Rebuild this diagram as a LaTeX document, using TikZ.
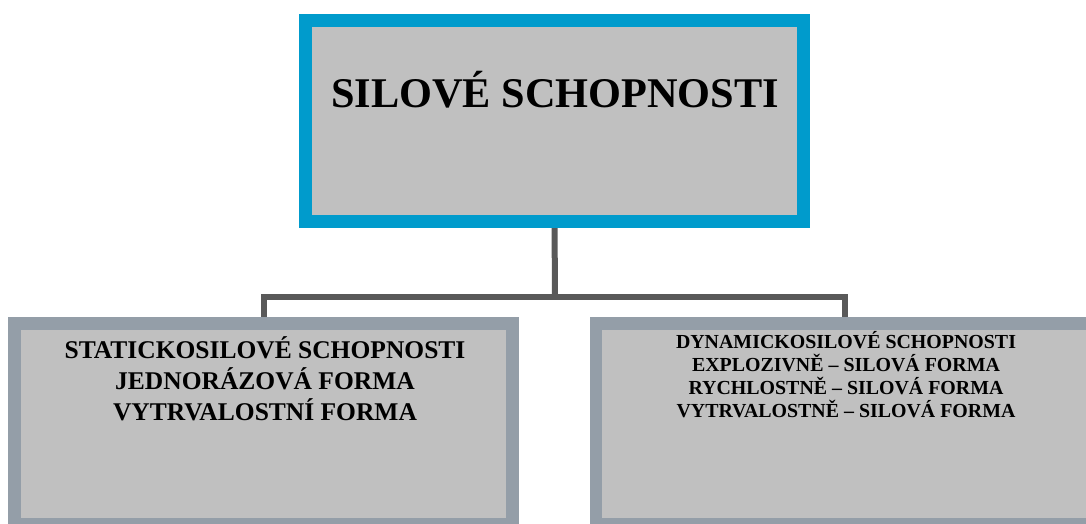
\documentclass[tikz,border=0pt]{standalone}
\usepackage{fontspec}
\setmainfont{Liberation Serif}
\usetikzlibrary{backgrounds}
\definecolor{topblue}{RGB}{0,155,204}
\definecolor{boxfill}{RGB}{192,192,192}
\definecolor{subborder}{RGB}{148,158,168}
\definecolor{linkgray}{RGB}{89,89,89}
\tikzset{
  box/.style={rectangle, inner sep=0pt, outer sep=0pt, minimum width=498pt, minimum height=201pt, fill=boxfill, line width=12.5pt},
  topbox/.style={box, draw=topblue},
  subbox/.style={box, draw=subborder},
  link/.style={draw=linkgray, line width=6pt, line join=miter},
  lbl/.style={inner sep=0pt, outer sep=0pt, align=center, anchor=base, font=\bfseries}
}
\begin{document}
\begin{tikzpicture}[x=1pt,y=-1pt]
\useasboundingbox (0,0) rectangle (1086,524);
\node[topbox] (top) at (554.5,121) {};
\node[subbox] (left) at (263.5,424) {};
\node[subbox] (right) at (845,424) {};
\coordinate (j) at (555,297);
\begin{scope}[on background layer]
\draw[link] (top.south) -- (j);
\draw[link] (left.north) |- (j) -| (right.north);
\end{scope}
\node[lbl, font=\bfseries\fontsize{42.3}{50}\selectfont] (ttl) at (555,107) {SILOVÉ SCHOPNOSTI};
\node[lbl, font=\bfseries\fontsize{25.5}{30.7}\selectfont] (ltxt) at (265,420) {STATICKOSILOVÉ SCHOPNOSTI\\JEDNORÁZOVÁ FORMA\\VYTRVALOSTNÍ FORMA};
\node[lbl, font=\bfseries\fontsize{19.9}{23}\selectfont] (rtxt) at (846,417) {DYNAMICKOSILOVÉ SCHOPNOSTI\\EXPLOZIVNĚ – SILOVÁ FORMA\\RYCHLOSTNĚ – SILOVÁ FORMA\\VYTRVALOSTNĚ – SILOVÁ FORMA};
\end{tikzpicture}
\end{document}
